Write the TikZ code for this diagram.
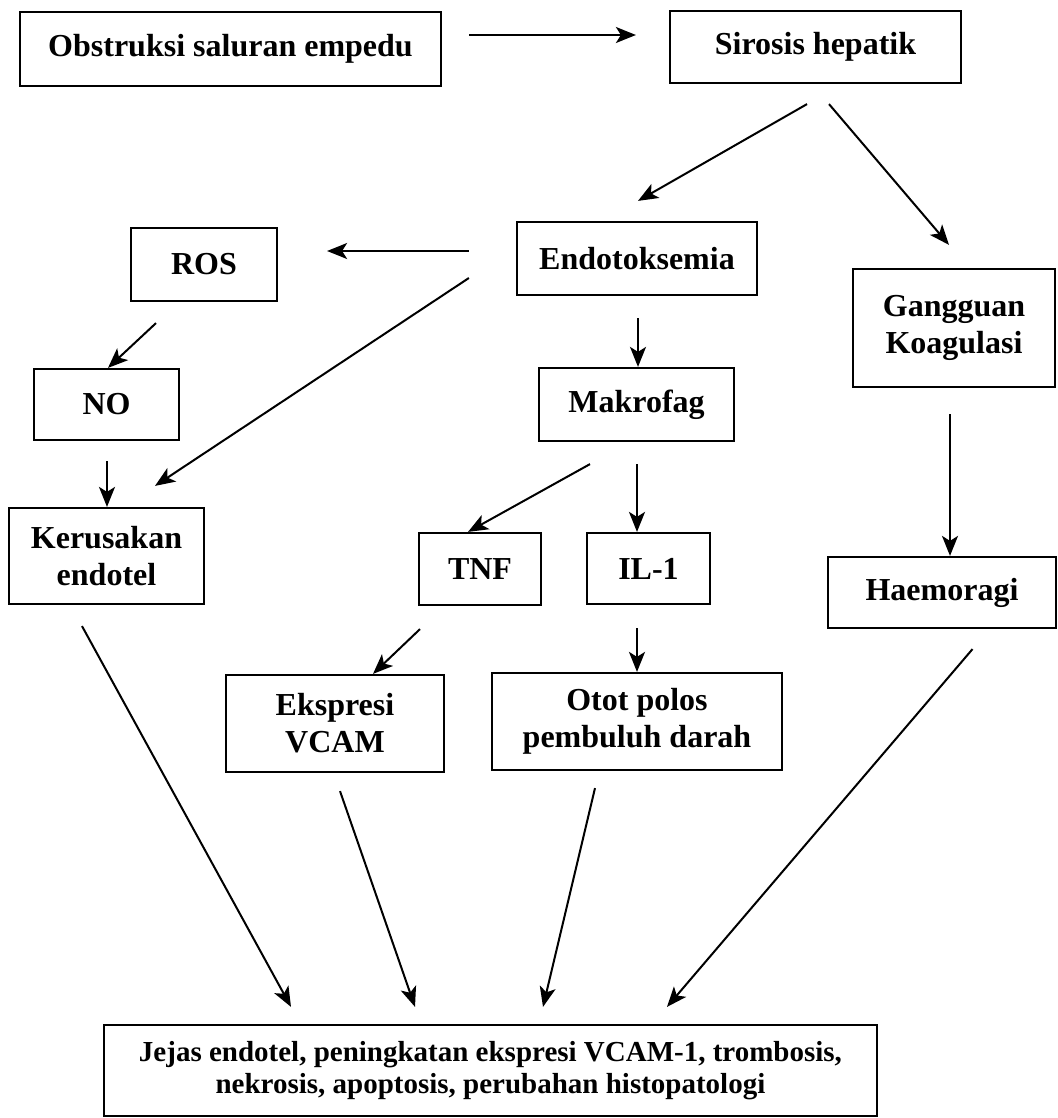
\documentclass[tikz,border=0pt]{standalone}
\usepackage{fontspec}
\setmainfont{Liberation Serif}
\usetikzlibrary{arrows.meta,calc}

\begin{document}
\begin{tikzpicture}[
    x=0.5pt, y=-0.5pt,
    box/.style={draw,line width=1.1pt,align=center,inner sep=0pt,font=\fontsize{16}{18.5}\selectfont\bfseries},
    sz/.style 2 args={minimum width=#1*0.5pt,minimum height=#2*0.5pt},
    arr/.style={line width=1pt,-{Stealth[length=10pt,width=8pt,inset=2.5pt]}}
]
\useasboundingbox (0,0) rectangle (1058,1118);

\node[box,sz={421}{74}] (obs) at (230.5,49) {Obstruksi saluran empedu};
\node[box,sz={291}{72}] (sir) at (815.5,47) {Sirosis hepatik};
\node[box,sz={240}{73}] (endo) at (637,258.5) {Endotoksemia};
\node[box,sz={146}{73}] (ros) at (204,264.5) {ROS};
\node[box,sz={202}{118}] (gang) at (954,328) {Gangguan\\Koagulasi};
\node[box,sz={145}{71}] (no) at (106.5,404.5) {NO};
\node[box,sz={195}{73}] (mak) at (636.5,404.5) {Makrofag};
\node[box,sz={195}{96}] (ker) at (106.5,556) {Kerusakan\\endotel};
\node[box,sz={122}{72}] (tnf) at (480,569) {TNF};
\node[box,sz={123}{71}] (il) at (648.5,568.5) {IL-1};
\node[box,sz={228}{71}] (haem) at (942,592.5) {Haemoragi};
\node[box,sz={218}{97}] (eks) at (335,723.5) {Ekspresi\\VCAM};
\node[box,sz={290}{97}] (otot) at (637,721.5) {Otot polos\\pembuluh darah};
\node[box,sz={773}{91},font=\fontsize{14.5}{16}\selectfont\bfseries] (hasil) at (490.5,1070.5)
    {Jejas endotel, peningkatan ekspresi VCAM-1, trombosis,\\nekrosis, apoptosis, perubahan histopatologi};

\draw[arr] ($(obs.east)+(27,-14)$) -- ($(sir.west)+(-33,-12)$);
\draw[arr] ($(sir.south)+(-8.5,20)$) -- ($(endo.north)+(1,-20)$);
\draw[arr] ($(sir.south)+(13.5,20)$) -- ($(gang.north)+(-5,-23)$);
\draw[arr] ($(endo.west)+(-47,-7.5)$) -- ($(ros.east)+(49,-13.5)$);
\draw[arr] ($(endo.west)+(-47,19.5)$) -- ($(ker.north)+(48.5,-21)$);
\draw[arr] ($(ros.south)+(-48,21)$) -- ($(no.north)+(1.5,0)$);
\draw[arr] ($(no.south)+(0.5,20)$) -- ($(ker.north)+(0.5,0)$);
\draw[arr] ($(endo.south)+(1,22)$) -- ($(mak.north)+(1.5,0)$);
\draw[arr] ($(mak.south)+(-46.5,22)$) -- ($(tnf.north)+(-12,0)$);
\draw[arr] ($(mak.south)+(0.5,22)$) -- ($(il.north)+(-11.5,0)$);
\draw[arr] ($(gang.south)+(-4,26)$) -- ($(haem.north)+(8,0)$);
\draw[arr] ($(tnf.south)+(-60,23)$) -- ($(eks.north)+(38,0)$);
\draw[arr] ($(il.south)+(-11.5,23)$) -- (otot.north);
\draw[arr] ($(ker.south)+(-24.5,21)$) -- ($(hasil.north)+(-199.5,-17)$);
\draw[arr] ($(eks.south)+(5,18)$) -- ($(hasil.north)+(-75.5,-17)$);
\draw[arr] ($(otot.south)+(-42,17)$) -- ($(hasil.north)+(52.5,-17)$);
\draw[arr] ($(haem.south)+(30.5,20)$) -- ($(hasil.north)+(176.5,-17)$);

\end{tikzpicture}
\end{document}
